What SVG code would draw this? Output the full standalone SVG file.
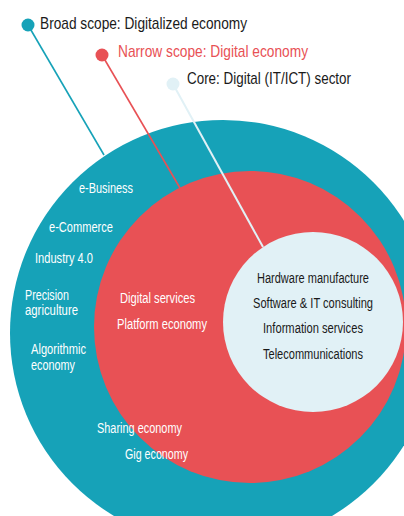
<svg xmlns="http://www.w3.org/2000/svg" width="404" height="516" viewBox="0 0 404 516">
<style>
.t{font-family:"Liberation Sans",Arial,sans-serif;}
.title{font-size:17px;}
.w{font-size:14px;fill:#ffffff;}
.k{font-size:14px;fill:#1a1a1a;}
.teal{fill:#16A2B8;}
.red{fill:#E85155;}
.light{fill:#E1F1F6;}
</style>
<rect width="404" height="516" fill="#ffffff"/>
<g id="broad-scope"><circle class="teal" cx="223" cy="333" r="213"/></g>
<g id="narrow-scope"><circle class="red" cx="250" cy="327" r="156"/></g>
<g id="core"><circle class="light" cx="313" cy="322" r="90"/></g>
<g id="connectors" fill="none" stroke-width="1.6">
<line x1="28" y1="25" x2="104" y2="155" stroke="#16A2B8"/>
<line x1="102" y1="55" x2="180" y2="188" stroke="#E85155"/>
<line x1="173" y1="84" x2="263" y2="247" stroke="#E1F1F6" stroke-width="2"/>
<circle cx="28" cy="25" r="6.5" fill="#16A2B8" stroke="none"/>
<circle cx="102" cy="55" r="6.5" fill="#E85155" stroke="none"/>
<circle cx="173" cy="84" r="6.5" fill="#E1F1F6" stroke="none"/>
</g>
<g id="broad-label"><text class="t title" x="40" y="29" fill="#1a1a1a" textLength="207" lengthAdjust="spacingAndGlyphs">Broad scope: Digitalized economy</text></g>
<g id="narrow-label"><text class="t title" x="118" y="57" fill="#E85155" textLength="190" lengthAdjust="spacingAndGlyphs">Narrow scope: Digital economy</text></g>
<g id="core-label"><text class="t title" x="187" y="84" fill="#1a1a1a" textLength="164" lengthAdjust="spacingAndGlyphs">Core: Digital (IT/ICT) sector</text></g>
<g id="broad-items">
<text class="t w" x="79" y="193" textLength="54" lengthAdjust="spacingAndGlyphs">e-Business</text>
<text class="t w" x="49" y="232" textLength="64" lengthAdjust="spacingAndGlyphs">e-Commerce</text>
<text class="t w" x="35" y="263" textLength="58" lengthAdjust="spacingAndGlyphs">Industry 4.0</text>
<text class="t w" x="25" y="300" textLength="44" lengthAdjust="spacingAndGlyphs">Precision</text>
<text class="t w" x="25" y="315" textLength="53" lengthAdjust="spacingAndGlyphs">agriculture</text>
<text class="t w" x="31" y="354" textLength="55" lengthAdjust="spacingAndGlyphs">Algorithmic</text>
<text class="t w" x="31" y="370" textLength="44" lengthAdjust="spacingAndGlyphs">economy</text>
<text class="t w" x="97" y="433" textLength="85" lengthAdjust="spacingAndGlyphs">Sharing economy</text>
<text class="t w" x="125" y="459" textLength="63" lengthAdjust="spacingAndGlyphs">Gig economy</text>
</g>
<g id="narrow-items">
<text class="t w" x="120" y="303" textLength="75" lengthAdjust="spacingAndGlyphs">Digital services</text>
<text class="t w" x="117" y="329" textLength="90" lengthAdjust="spacingAndGlyphs">Platform economy</text>
</g>
<g id="core-items">
<text class="t k" x="257" y="283" textLength="112" lengthAdjust="spacingAndGlyphs">Hardware manufacture</text>
<text class="t k" x="253" y="308" textLength="120" lengthAdjust="spacingAndGlyphs">Software &amp; IT consulting</text>
<text class="t k" x="263" y="333" textLength="100" lengthAdjust="spacingAndGlyphs">Information services</text>
<text class="t k" x="263" y="359" textLength="100" lengthAdjust="spacingAndGlyphs">Telecommunications</text>
</g>
</svg>
